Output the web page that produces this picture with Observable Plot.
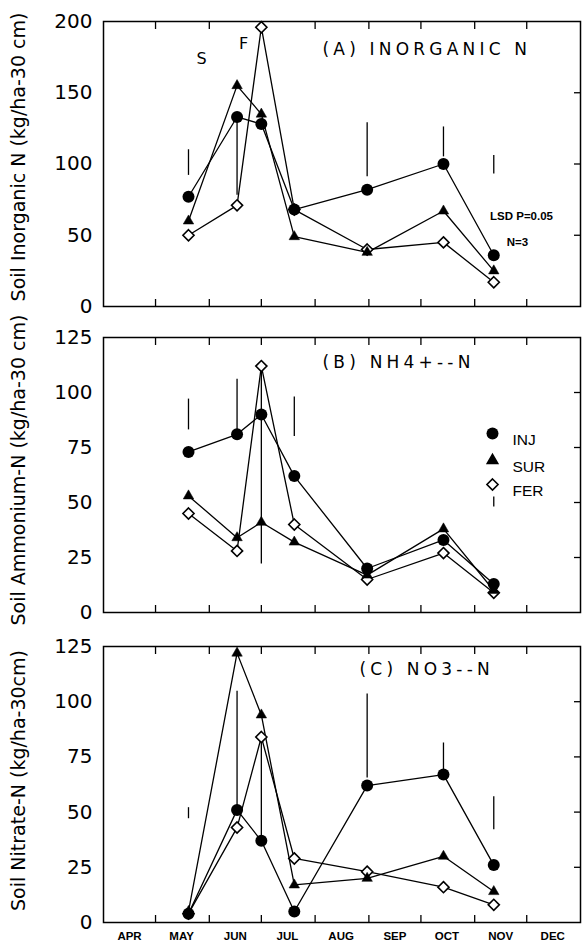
<!DOCTYPE html>
<html>
<head>
<meta charset="utf-8">
<script src="https://cdn.jsdelivr.net/npm/d3@7"></script>
<script src="https://cdn.jsdelivr.net/npm/@observablehq/plot@0.6"></script>
<style>
  body { margin: 0; background: #fff; }
  #chart { width: 583px; height: 945px; position: relative; overflow: hidden; }
  #chart svg { display: block; overflow: visible; }
  #chart text.panel-title { letter-spacing: 4.2px; }
</style>
</head>
<body>
<div id="chart"></div>
<script>
// Sampling dates (same for all three panels)
const sampleDates = ["May 20", "Jun 17", "Jul 1", "Jul 20", "Aug 31", "Oct 14", "Nov 12"];
const treatments = ["INJ", "SUR", "FER"];

// (A) Soil inorganic N, kg/ha-30 cm
const inorgINJ = [77, 133, 128, 68, 82, 100, 36];
const inorgSUR = [60, 155, 135, 49, 38, 67, 25];
const inorgFER = [50, 71, 196, 68, 40, 45, 17];
const inorgLsdDates = ["May 20", "Jun 17", "Aug 31", "Oct 14", "Nov 12"];
const inorgLsdLow = [92, 78, 91, 105, 93];
const inorgLsdHigh = [110, 133, 129, 126, 106];

// (B) Soil ammonium-N, kg/ha-30 cm
const ammINJ = [73, 81, 90, 62, 20, 33, 13];
const ammSUR = [53, 34, 41, 32, 17, 38, 10];
const ammFER = [45, 28, 112, 40, 15, 27, 9];
const ammLsdDates = ["May 20", "Jun 17", "Jul 1", "Jul 20", "Nov 12"];
const ammLsdLow = [83, 82, 22, 80, 48];
const ammLsdHigh = [97, 106, 112, 98, 52.5];

// (C) Soil nitrate-N, kg/ha-30 cm
const nitINJ = [4, 51, 37, 5, 62, 67, 26];
const nitSUR = [5, 122, 94, 17, 20, 30, 14];
const nitFER = [4, 43, 84, 29, 23, 16, 8];
const nitLsdDates = ["May 20", "Jun 17", "Jul 1", "Aug 31", "Oct 14", "Nov 12"];
const nitLsdLow = [47, 51.5, 37.5, 65.5, 66.7, 42];
const nitLsdHigh = [52, 104.7, 83.6, 103.5, 81.3, 57];

const ticks200 = [0, 50, 100, 150, 200];
const ticks125 = [0, 25, 50, 75, 100, 125];

const parse = d3.utcParse("%b %d");
const xStart = parse("Apr 1");
const xEnd = d3.utcYear.offset(parse("Jan 1"), 1);
const monthStarts = d3.utcMonth.range(parse("May 1"), parse("Dec 2"));
const monthMids = d3.utcMonth.range(xStart, xEnd).map(d => d3.utcDay.offset(d, 15));

const W = 583, ML = 103, MR = 3;
const frameW = W - ML - MR;

function rowsOf(inj, sur, fer) {
  const rows = [];
  [inj, sur, fer].forEach((vals, k) => {
    vals.forEach((v, i) => rows.push({trt: treatments[k], date: parse(sampleDates[i]), value: v}));
  });
  return rows;
}
function lsdOf(dates, lo, hi) {
  return dates.map((d, i) => ({date: parse(d), lo: lo[i], hi: hi[i]}));
}

function panel({rows, lsd, yMax, yTicks, title, titleDx, titleDy, yLabel, yLabelDy,
                height, marginTop, marginBottom, months = false, extra = []}) {
  const frameH = height - marginTop - marginBottom;
  const svg = Plot.plot({
    width: W,
    height,
    marginLeft: ML,
    marginRight: MR,
    marginTop,
    marginBottom,
    style: {fontFamily: "DejaVu Sans", background: "transparent", color: "black"},
    x: {type: "utc", domain: [xStart, xEnd], axis: null},
    y: {domain: [0, yMax], axis: null},
    marks: [
      Plot.frame({stroke: "black", strokeWidth: 1.5}),
      // month boundary ticks, inward on top and bottom
      Plot.ruleX(monthStarts, {x: d => d, insetBottom: frameH - 8, stroke: "black", strokeWidth: 1.3}),
      Plot.ruleX(monthStarts, {x: d => d, insetTop: frameH - 7, stroke: "black", strokeWidth: 1.3}),
      // value ticks, inward on the right
      Plot.ruleY(yTicks.slice(1, -1), {y: d => d, insetLeft: frameW - 6, stroke: "black", strokeWidth: 1.3}),
      Plot.axisY({ticks: yTicks, tickSize: 0, tickPadding: 11, fontSize: 20, label: null}),
      months ? Plot.axisX({ticks: monthMids, tickSize: 0, tickPadding: 9, fontSize: 11.5,
                           fontWeight: "bold", fontFamily: "Liberation Sans",
                           tickFormat: d => d3.utcFormat("%b")(d).toUpperCase(), label: null}) : null,
      // y-axis title
      Plot.text([yLabel], {frameAnchor: "left", rotate: -90, dx: -92, dy: yLabelDy,
                           textAnchor: "middle", lineAnchor: "top", fontSize: 19}),
      // panel title
      Plot.text([title], {frameAnchor: "top-left", dx: titleDx, dy: titleDy, textAnchor: "start",
                          lineAnchor: "middle", fontSize: 17}),
      // LSD bars
      Plot.ruleX(lsd, {x: "date", y1: "lo", y2: "hi", stroke: "black", strokeWidth: 1.3}),
      // treatment lines
      Plot.line(rows, {x: "date", y: "value", z: "trt", stroke: "black", strokeWidth: 1.3}),
      Plot.dot(rows.filter(d => d.trt === "FER"), {x: "date", y: "value", symbol: "diamond2", r: 5,
                                                    fill: "white", stroke: "black", strokeWidth: 1.6}),
      Plot.dot(rows.filter(d => d.trt === "SUR"), {x: "date", y: "value", symbol: "triangle2", r: 5,
                                                    fill: "black", stroke: "black", strokeWidth: 0.5}),
      Plot.dot(rows.filter(d => d.trt === "INJ"), {x: "date", y: "value", symbol: "circle", r: 6,
                                                    fill: "black"}),
      ...extra
    ]
  });
  // widely spaced panel title lettering
  svg.querySelectorAll("text").forEach(t => {
    if (t.textContent === title) t.classList.add("panel-title");
  });
  return svg;
}

const chart = document.getElementById("chart");

// Panel A
chart.append(panel({
  rows: rowsOf(inorgINJ, inorgSUR, inorgFER),
  lsd: lsdOf(inorgLsdDates, inorgLsdLow, inorgLsdHigh),
  yMax: 200, yTicks: ticks200,
  title: "(A) INORGANIC N", titleDx: 219, titleDy: 28,
  yLabel: "Soil Inorganic N (kg/ha-30 cm)", yLabelDy: -7,
  height: 322, marginTop: 21, marginBottom: 16,
  extra: [
    Plot.text(["S"], {frameAnchor: "top-left", dx: 98, dy: 31, fontSize: 16, textAnchor: "middle"}),
    Plot.text(["F"], {frameAnchor: "top-left", dx: 140, dy: 16, fontSize: 16, textAnchor: "middle"}),
    Plot.text(["LSD P=0.05"], {frameAnchor: "top-left", dx: 418, dy: 190, fontSize: 11.5, textAnchor: "middle",
                               fontWeight: "bold", fontFamily: "Liberation Sans"}),
    Plot.text(["N=3"], {frameAnchor: "top-left", dx: 414, dy: 216, fontSize: 11.5, textAnchor: "middle",
                        fontWeight: "bold", fontFamily: "Liberation Sans"})
  ]
}));

// Legend for panel B
const legendSymbols = [
  {symbol: "circle", r: 6, fill: "black", stroke: "none"},
  {symbol: "triangle2", r: 5, fill: "black", stroke: "black"},
  {symbol: "diamond2", r: 5, fill: "white", stroke: "black"}
];
const legendRowDy = [96, 123, 147];
const legendMarks = treatments.flatMap((t, i) => [
  Plot.dot([t], {frameAnchor: "top-right", dx: -88, dy: legendRowDy[i], strokeWidth: 1.6, ...legendSymbols[i]}),
  Plot.text([t], {frameAnchor: "top-right", dx: -68, dy: legendRowDy[i], textAnchor: "start",
                  fontSize: 15.5, fontFamily: "Liberation Sans"})
]);

// Panel B
chart.append(panel({
  rows: rowsOf(ammINJ, ammSUR, ammFER),
  lsd: lsdOf(ammLsdDates, ammLsdLow, ammLsdHigh),
  yMax: 125, yTicks: ticks125,
  title: "(B) NH4+--N", titleDx: 219, titleDy: 25,
  yLabel: "Soil Ammonium-N (kg/ha-30 cm)", yLabelDy: -5,
  height: 300, marginTop: 15, marginBottom: 10,
  extra: legendMarks
}));

// Panel C
chart.append(panel({
  rows: rowsOf(nitINJ, nitSUR, nitFER),
  lsd: lsdOf(nitLsdDates, nitLsdLow, nitLsdHigh),
  yMax: 125, yTicks: ticks125,
  title: "(C) NO3--N", titleDx: 256, titleDy: 23,
  yLabel: "Soil Nitrate-N (kg/ha-30cm)", yLabelDy: -4,
  height: 323, marginTop: 24, marginBottom: 23,
  months: true
}));
</script>
</body>
</html>
